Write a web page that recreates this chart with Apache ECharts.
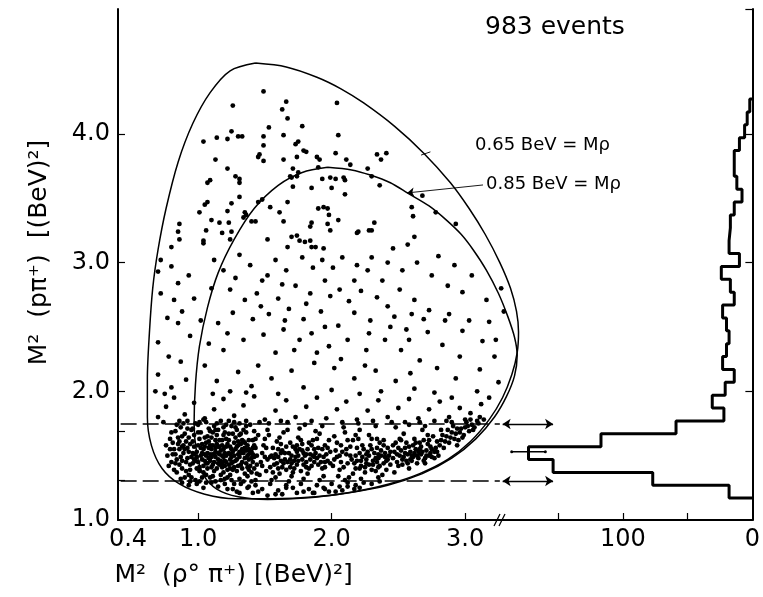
<!DOCTYPE html>
<html><head><meta charset="utf-8">
<script src="https://cdn.jsdelivr.net/npm/echarts@6/dist/echarts.min.js"></script>
<style>html,body{margin:0;padding:0;background:#fff}#c{width:763px;height:597px}</style>
</head><body><div id="c"></div>
<script>
// ---- data ----
const xTickValues = [1.0, 2.0, 3.0];
const xLabelValues = [0.4, 1.0, 2.0, 3.0];
const yTickValues = [1.31, 1.69, 2.0, 3.0, 4.0];
const yLabelValues = [1.0, 2.0, 3.0, 4.0];
const histTickValues = [50, 100, 150];
const histLabelValues = [0, 100];
const rightTickValues = [2, 3, 4, 4.97];
const binStart = 1.17;
const binWidth = 0.1;
const histCounts = [18,77,154,173,117,59,22,31,21,14,23,20,18,20,23,14,17,24,10,18,17,17,14,8,12,14,14,10,6,4,2];
const bandLimits = [1.303, 1.746];
const errorBar = {y: 1.53, lo: 160, hi: 186};
const boundary065 = [[1.43,4.55],[1.66,4.52],[1.89,4.44],[2.07,4.35],[2.24,4.24],[2.47,4.06],[2.69,3.85],[2.89,3.62],[3.03,3.42],[3.15,3.22],[3.26,3.00],[3.34,2.80],[3.385,2.62],[3.40,2.46],[3.39,2.30],[3.35,2.13],[3.28,1.95],[3.18,1.78],[3.04,1.61],[2.87,1.47],[2.66,1.36],[2.43,1.28],[2.17,1.22],[1.88,1.18],[1.55,1.165],[1.28,1.165],[1.05,1.20],[0.86,1.28],[0.73,1.40],[0.65,1.58],[0.62,1.80],[0.62,2.10],[0.635,2.45],[0.66,2.80],[0.70,3.10],[0.76,3.42],[0.85,3.78],[0.96,4.08],[1.09,4.32],[1.24,4.49],[1.43,4.55]];
const boundary085 = [[1.97,3.74],[2.15,3.72],[2.29,3.68],[2.44,3.62],[2.57,3.54],[2.73,3.44],[2.86,3.33],[2.97,3.22],[3.06,3.10],[3.16,2.94],[3.25,2.76],[3.32,2.58],[3.37,2.42],[3.39,2.28],[3.37,2.12],[3.31,1.96],[3.22,1.80],[3.08,1.63],[2.90,1.48],[2.68,1.36],[2.42,1.27],[2.12,1.21],[1.80,1.17],[1.52,1.16],[1.30,1.18],[1.14,1.24],[1.04,1.35],[0.99,1.52],[0.97,1.75],[0.98,2.05],[1.01,2.35],[1.07,2.65],[1.15,2.92],[1.27,3.18],[1.42,3.42],[1.60,3.60],[1.78,3.70],[1.97,3.74]];
const eventsUpper = [
[1.49,4.33],[1.26,4.22],[1.66,4.25],[1.63,4.19],[2.04,4.24],[1.67,4.12],[1.78,4.06],[1.53,4.05],[1.25,4.02],[1.30,3.98],
[1.33,3.98],[1.04,3.94],[1.14,3.97],[1.22,3.96],[1.49,3.98],[1.64,3.99],[2.05,3.99],[1.73,3.92],[1.75,3.94],[1.49,3.91],
[1.46,3.84],[1.45,3.82],[1.49,3.79],[1.64,3.80],[1.79,3.87],[1.81,3.86],[1.74,3.82],[1.89,3.82],[1.91,3.80],[2.03,3.85],
[2.11,3.80],[2.14,3.76],[2.34,3.84],[2.41,3.85],[2.37,3.80],[1.13,3.80],[1.22,3.73],[1.71,3.73],[1.69,3.67],[2.27,3.73],
[1.28,3.67],[1.31,3.65],[1.31,3.62],[1.09,3.64],[1.07,3.62],[1.74,3.67],[1.75,3.70],[1.70,3.66],[1.90,3.74],[1.93,3.65],
[1.99,3.66],[2.03,3.65],[2.09,3.66],[2.10,3.64],[2.30,3.67],[2.36,3.60],[1.71,3.59],[1.85,3.58],[2.00,3.58],[2.10,3.53],
[2.68,3.52],[1.31,3.51],[1.07,3.47],[1.05,3.45],[1.25,3.46],[1.22,3.40],[1.48,3.49],[1.45,3.47],[1.67,3.47],[1.54,3.43],
[1.90,3.42],[1.94,3.43],[1.97,3.42],[1.98,3.37],[2.05,3.33],[1.61,3.39],[1.35,3.39],[1.34,3.35],[1.36,3.37],[1.01,3.39],
[1.10,3.33],[1.16,3.31],[1.23,3.31],[1.40,3.32],[1.43,3.32],[1.64,3.32],[1.85,3.31],[1.84,3.28],[1.97,3.30],[1.99,3.25],
[2.32,3.31],[2.28,3.25],[2.60,3.43],[2.61,3.36],[2.78,3.39],[2.93,3.30],[0.86,3.30],[0.85,3.24],[0.86,3.18],[1.06,3.25],
[1.18,3.23],[1.25,3.24],[1.24,3.18],[1.04,3.17],[1.04,3.15],[1.52,3.18],[1.70,3.20],[1.74,3.21],[1.76,3.17],[1.80,3.16],
[1.84,3.17],[1.85,3.12],[1.88,3.12],[2.20,3.24],[2.19,3.23],[2.30,3.25],[2.62,3.20],[2.57,3.14],[0.80,3.12],[1.67,3.12],
[1.94,3.11],[2.46,3.11]
];
const eventsMiddle = [
[0.72,3.02],[0.70,2.93],[0.80,2.97],[0.85,2.84],[0.72,2.76],[0.82,2.71],[0.77,2.57],[0.85,2.53],[0.94,2.43],[0.70,2.38],
[0.78,2.27],[0.87,2.23],[0.70,2.13],[0.80,2.03],[0.91,2.09],[0.68,2.00],[0.75,1.98],[0.88,2.62],[0.93,2.90],[0.97,2.72],
[1.12,3.02],[1.19,2.94],[1.31,3.06],[1.39,2.98],[1.48,2.86],[1.24,2.79],[1.35,2.71],[1.44,2.76],[1.58,3.02],[1.66,2.94],
[1.78,3.04],[1.86,2.96],[1.93,3.02],[2.08,3.04],[2.19,2.98],[2.30,3.04],[2.42,3.00],[2.53,2.94],[2.64,3.00],[2.75,2.90],
[2.87,2.82],[2.98,2.77],[3.16,2.71],[3.18,2.54],[3.29,2.62],[3.13,2.39],[2.98,2.47],[2.85,2.55],[2.73,2.63],[2.62,2.71],
[2.51,2.79],[2.38,2.86],[2.27,2.94],[2.17,2.86],[2.06,2.79],[1.95,2.86],[1.84,2.76],[1.73,2.82],[1.60,2.72],[1.68,2.64],
[1.53,2.60],[1.41,2.56],[1.26,2.61],[1.15,2.53],[1.08,2.37],[1.19,2.32],[1.34,2.40],[1.49,2.44],[1.64,2.48],[1.79,2.56],
[1.92,2.62],[2.05,2.51],[2.17,2.61],[2.29,2.55],[2.42,2.66],[2.56,2.48],[2.69,2.56],[2.83,2.36],[2.96,2.27],[3.11,2.17],
[3.22,2.27],[3.25,2.07],[3.09,2.00],[2.93,2.10],[2.79,2.18],[2.66,2.24],[2.52,2.32],[2.40,2.40],[2.26,2.32],[2.12,2.40],
[1.98,2.35],[1.85,2.45],[1.72,2.32],[1.58,2.30],[1.45,2.20],[1.30,2.15],[1.14,2.08],[1.24,2.00],[1.40,2.04],[1.55,2.10],
[1.70,2.16],[1.87,2.22],[2.02,2.18],[2.17,2.10],[2.33,2.16],[2.48,2.08],[2.62,2.02],[2.77,1.99],[2.90,1.95],[2.59,2.14],
[2.37,2.00],[2.21,1.98],[2.00,2.01],[1.79,2.03],[1.60,1.98],[1.36,1.99],[1.11,1.98],[1.05,2.20],[1.02,2.55],[1.10,2.80],
[1.22,2.45],[1.52,2.90],[1.63,2.83],[2.01,2.96],[2.13,2.70],[2.34,2.73],[2.47,2.58],[2.58,2.40],[2.72,2.46],[2.88,2.60],
[3.03,2.55],[3.05,2.90],[2.92,2.98],[2.80,3.05],[3.23,2.40],[3.27,2.80],[1.76,2.40],[1.89,2.30],[2.07,2.25],[2.28,2.45],
[1.28,2.88],[1.47,2.66],[1.81,2.68],[1.99,2.74],[2.22,2.78],[2.44,2.50],[2.60,2.60],[2.25,2.20],[1.95,2.50],[1.65,2.55],
[0.70,1.80],[0.76,1.88],[0.82,1.95],[0.90,1.82],[0.97,1.91],[1.05,1.79],[1.12,1.86],[1.19,1.94],[1.27,1.81],[1.34,1.89],
[1.42,1.96],[1.50,1.78],[1.58,1.85],[1.66,1.93],[1.73,1.80],[1.81,1.88],[1.89,1.95],[1.96,1.79],[2.04,1.86],[2.11,1.92],
[2.19,1.78],[2.27,1.85],[2.35,1.93],[2.42,1.80],[2.50,1.87],[2.58,1.94],[2.65,1.79],[2.73,1.86],[2.81,1.92],[2.88,1.80],
[2.96,1.87],[3.04,1.83],[3.12,1.90],[3.18,1.95],[0.74,1.76],[0.86,1.77],[1.01,1.76],[1.23,1.77],[1.46,1.76],[1.62,1.77],
[1.85,1.77],[2.08,1.76],[2.31,1.77],[2.55,1.76],[2.77,1.77]
];
const eventsBand = [
[0.78,1.42],[0.81,1.51],[0.76,1.58],[0.84,1.47],[0.79,1.63],[0.86,1.55],[0.83,1.69],[0.88,1.40],[0.91,1.61],[0.87,1.72],
[0.93,1.35],[0.95,1.49],[0.92,1.56],[0.97,1.66],[0.94,1.43],[0.99,1.53],[0.96,1.71],[1.01,1.38],[1.03,1.59],[0.98,1.46],
[1.05,1.64],[1.02,1.50],[1.07,1.44],[1.04,1.55],[1.09,1.69],[1.06,1.35],[1.11,1.58],[1.08,1.48],[1.13,1.62],[1.10,1.41],
[1.15,1.52],[1.12,1.73],[1.17,1.46],[1.14,1.66],[1.19,1.37],[1.16,1.57],[1.21,1.50],[1.18,1.62],[1.23,1.43],[1.20,1.68],
[1.25,1.55],[1.22,1.33],[1.27,1.60],[1.24,1.47],[1.29,1.70],[1.26,1.39],[1.31,1.53],[1.28,1.64],[1.33,1.45],[1.30,1.58],
[1.35,1.36],[1.32,1.67],[1.37,1.50],[1.34,1.61],[1.39,1.42],[1.36,1.73],[1.41,1.56],[1.38,1.47],[1.43,1.63],[1.40,1.53],
[0.80,1.45],[0.85,1.59],[0.89,1.52],[0.90,1.67],[0.94,1.39],[0.97,1.57],[1.00,1.45],[1.01,1.63],[1.04,1.42],[1.07,1.52],
[1.08,1.61],[1.10,1.55],[1.12,1.45],[1.14,1.40],[1.16,1.51],[1.18,1.44],[1.19,1.55],[1.22,1.59],[1.23,1.52],[1.25,1.44],
[1.27,1.50],[1.29,1.57],[1.30,1.42],[1.33,1.55],[1.35,1.48],[1.37,1.58],[1.39,1.53],[1.41,1.45],[1.42,1.40],[1.44,1.50],
[0.82,1.55],[0.87,1.49],[0.91,1.45],[0.93,1.53],[0.96,1.61],[0.99,1.49],[1.03,1.47],[1.05,1.57],[1.06,1.50],[1.09,1.46],
[1.11,1.51],[1.13,1.56],[1.15,1.47],[1.17,1.54],[1.19,1.49],[1.21,1.45],[1.24,1.57],[1.26,1.53],[1.28,1.46],[1.31,1.49],
[1.32,1.59],[1.34,1.52],[1.36,1.44],[1.38,1.55],[1.40,1.48],[0.84,1.37],[0.90,1.33],[0.98,1.31],[1.03,1.33],[1.11,1.34],
[1.17,1.31],[1.24,1.35],[1.31,1.32],[1.37,1.34],[1.43,1.31],[0.88,1.65],[0.95,1.70],[1.00,1.74],[1.08,1.71],[1.15,1.70],
[1.21,1.74],[1.28,1.72],[1.34,1.70],[1.42,1.69],[0.86,1.43],[0.92,1.48],[0.96,1.44],[1.02,1.56],[1.06,1.60],[1.10,1.64],
[1.13,1.49],[1.18,1.58],[1.20,1.42],[1.23,1.62],[1.27,1.41],[1.30,1.61],[1.33,1.40],[1.36,1.54],[1.38,1.62],[1.42,1.58],
[0.81,1.60],[0.89,1.58],[0.97,1.51],[1.01,1.41],[1.05,1.46],[1.09,1.51],[1.14,1.59],[1.16,1.43],[1.20,1.52],[1.25,1.49],
[0.77,1.50],[0.80,1.68],[0.83,1.44],[0.85,1.64],[0.88,1.46],[0.89,1.75],[0.91,1.38],[0.92,1.71],[0.94,1.59],[0.95,1.33],
[0.97,1.47],[0.98,1.75],[1.00,1.58],[1.01,1.30],[1.02,1.68],[1.04,1.37],[1.05,1.51],[1.06,1.76],[1.07,1.40],[1.08,1.56],
[1.09,1.33],[1.10,1.49],[1.11,1.68],[1.12,1.38],[1.13,1.53],[1.14,1.75],[1.15,1.44],[1.16,1.62],[1.17,1.35],[1.18,1.50],
[1.19,1.72],[1.20,1.46],[1.21,1.57],[1.22,1.39],[1.23,1.67],[1.24,1.51],[1.25,1.31],[1.26,1.45],[1.27,1.76],[1.28,1.55],
[1.29,1.38],[1.30,1.51],[1.31,1.66],[1.32,1.43],[1.33,1.62],[1.34,1.30],[1.35,1.56],[1.36,1.68],[1.37,1.41],[1.38,1.51],
[1.39,1.74],[1.40,1.37],[1.41,1.62],[1.42,1.49],[1.43,1.56],[1.44,1.36],[1.45,1.66],[0.79,1.55],[0.82,1.39],[0.86,1.61],
[0.90,1.55],[0.93,1.64],[0.96,1.52],[0.99,1.40],[1.03,1.52],[1.06,1.44],[1.09,1.58],[1.12,1.51],[1.15,1.57],[1.18,1.41],
[1.21,1.63],[1.24,1.40],[1.26,1.67],[1.29,1.47],[1.32,1.52],[1.35,1.60],[1.38,1.39],[1.41,1.51],[1.44,1.43],[1.00,1.68],
[1.07,1.65],[1.13,1.70],[1.19,1.66],[1.25,1.73],[1.31,1.75],[0.84,1.74],[0.92,1.77],[1.04,1.78],[1.17,1.77],[1.36,1.77],
[0.87,1.32],[0.94,1.30],[1.06,1.29],[1.13,1.30],[1.20,1.32],[1.27,1.28],[1.40,1.30],[0.83,1.51],[0.88,1.57],[1.11,1.43],
[1.47,1.45],[1.49,1.58],[1.51,1.38],[1.53,1.66],[1.55,1.50],[1.57,1.43],[1.59,1.61],[1.61,1.36],[1.63,1.54],[1.65,1.47],
[1.67,1.70],[1.69,1.41],[1.71,1.57],[1.73,1.49],[1.75,1.64],[1.77,1.38],[1.79,1.52],[1.81,1.45],[1.83,1.60],[1.85,1.42],
[1.87,1.55],[1.89,1.48],[1.91,1.67],[1.93,1.40],[1.95,1.58],[1.97,1.46],[1.99,1.53],[1.48,1.52],[1.52,1.47],[1.56,1.56],
[1.60,1.49],[1.64,1.44],[1.68,1.52],[1.72,1.46],[1.76,1.55],[1.80,1.50],[1.84,1.47],[1.88,1.52],[1.92,1.45],[1.96,1.51],
[1.50,1.63],[1.54,1.41],[1.58,1.51],[1.62,1.59],[1.66,1.39],[1.70,1.50],[1.74,1.43],[1.78,1.47],[1.82,1.55],[1.86,1.62],
[1.90,1.43],[1.94,1.49],[1.98,1.62],[1.46,1.35],[1.58,1.33],[1.70,1.34],[1.82,1.36],[1.94,1.34],[1.52,1.70],[1.64,1.68],
[1.76,1.71],[1.88,1.69],[1.62,1.46],[1.66,1.57],[1.74,1.53],[1.78,1.59],[1.84,1.51],[1.90,1.56],[1.57,1.48],[1.69,1.47],
[1.72,1.40],[1.81,1.41],[1.87,1.45],[1.95,1.45],[1.60,1.55],[1.75,1.50],
[1.48,1.42],[1.51,1.56],[1.54,1.49],[1.56,1.37],[1.59,1.44],[1.61,1.64],[1.63,1.41],[1.65,1.52],[1.67,1.45],[1.69,1.60],
[1.71,1.37],[1.73,1.55],[1.75,1.46],[1.77,1.62],[1.79,1.43],[1.81,1.51],[1.83,1.40],[1.85,1.58],[1.87,1.49],[1.89,1.63],
[1.91,1.50],[1.93,1.55],[1.95,1.41],[1.97,1.56],[1.99,1.44],[1.53,1.75],[1.67,1.76],[1.80,1.74],[1.93,1.73],[1.55,1.31],
[1.68,1.30],[1.79,1.32],[1.91,1.31],[1.62,1.52],[1.70,1.44],[1.78,1.54],[1.86,1.50],[1.50,1.49],[1.60,1.40],[1.74,1.58],
[2.02,1.47],[2.04,1.60],[2.06,1.39],[2.08,1.53],[2.10,1.68],[2.12,1.44],[2.14,1.57],[2.16,1.36],[2.18,1.50],[2.20,1.63],
[2.22,1.42],[2.24,1.55],[2.26,1.47],[2.28,1.66],[2.30,1.39],[2.32,1.52],[2.34,1.45],[2.36,1.60],[2.38,1.35],[2.40,1.49],
[2.42,1.56],[2.44,1.43],[2.03,1.54],[2.07,1.45],[2.11,1.51],[2.15,1.47],[2.19,1.56],[2.23,1.49],[2.27,1.53],[2.31,1.46],
[2.35,1.51],[2.39,1.44],[2.43,1.50],[2.05,1.34],[2.13,1.33],[2.25,1.37],[2.33,1.38],[2.41,1.39],[2.09,1.72],[2.21,1.70],
[2.33,1.73],[2.17,1.44],[2.21,1.52],[2.25,1.41],[2.29,1.58],[2.31,1.43],[2.35,1.48],[2.37,1.54],[2.39,1.58],[2.41,1.46],
[2.28,1.50],[2.36,1.42],[2.26,1.44],[2.34,1.56],[2.12,1.62],[2.18,1.40],[2.06,1.50],[2.40,1.52],[2.30,1.63],[2.22,1.46],
[2.01,1.42],[2.04,1.49],[2.07,1.58],[2.09,1.41],[2.11,1.55],[2.14,1.50],[2.16,1.62],[2.19,1.46],[2.21,1.40],[2.23,1.58],
[2.26,1.51],[2.28,1.43],[2.30,1.55],[2.33,1.48],[2.35,1.41],[2.37,1.50],[2.39,1.62],[2.42,1.47],[2.44,1.53],[2.46,1.58],
[2.20,1.75],[2.10,1.31],[2.22,1.32],[2.35,1.33],[2.34,1.63],[2.18,1.66],[2.02,1.65],
[2.46,1.48],[2.48,1.60],[2.50,1.42],[2.52,1.54],[2.54,1.67],[2.56,1.46],[2.58,1.57],[2.60,1.50],[2.62,1.63],[2.64,1.44],
[2.66,1.55],[2.68,1.70],[2.70,1.48],[2.72,1.59],[2.74,1.52],[2.76,1.65],[2.78,1.56],[2.47,1.53],[2.51,1.50],[2.55,1.52],
[2.59,1.47],[2.63,1.55],[2.67,1.51],[2.71,1.54],[2.75,1.49],[2.79,1.61],[2.49,1.45],[2.53,1.43],[2.57,1.51],[2.61,1.58],
[2.65,1.48],[2.69,1.62],[2.73,1.50],[2.77,1.53],[2.48,1.72],[2.58,1.74],[2.70,1.73],[2.50,1.56],[2.56,1.60],[2.62,1.52],
[2.66,1.60],[2.74,1.57],[2.64,1.50],[2.60,1.46],[2.54,1.49],[2.72,1.66],[2.68,1.53],[2.52,1.62],
[2.49,1.51],[2.51,1.63],[2.53,1.47],[2.55,1.56],[2.57,1.44],[2.59,1.53],[2.61,1.49],[2.63,1.60],[2.65,1.53],[2.67,1.57],
[2.69,1.46],[2.71,1.50],[2.73,1.62],[2.75,1.55],[2.77,1.48],[2.79,1.53],[2.45,1.76],[2.66,1.76],[2.47,1.37],[2.58,1.40],
[2.70,1.44],[2.80,1.50],
[2.81,1.58],[2.83,1.66],[2.85,1.61],[2.87,1.70],[2.89,1.64],[2.91,1.73],[2.93,1.67],[2.95,1.62],[2.97,1.71],[2.99,1.66],
[3.01,1.76],[3.03,1.69],[3.05,1.74],[3.07,1.72],[2.84,1.56],[2.88,1.60],[2.92,1.63],[2.96,1.68],[3.00,1.72],[3.04,1.78],
[2.82,1.70],[2.90,1.76],[2.94,1.58],[3.09,1.77],[3.11,1.80],[2.82,1.62],[2.86,1.65],[2.90,1.68],[2.94,1.71],[2.98,1.64],
[3.02,1.73],[3.06,1.70],[3.10,1.75],[3.14,1.78],[2.86,1.77],[3.00,1.78],
[0.88,1.29],[0.93,1.27],[0.99,1.28],[1.04,1.25],[1.10,1.29],[1.15,1.26],[1.20,1.28],[1.26,1.24],[1.32,1.28],[1.37,1.25],
[1.43,1.27],[1.48,1.24],[1.54,1.28],[1.60,1.23],[1.66,1.27],[1.71,1.25],[1.77,1.28],[1.83,1.24],[1.89,1.27],[1.94,1.25],
[2.00,1.28],[2.06,1.26],[2.12,1.29],[2.18,1.27],[2.24,1.29],[2.30,1.28],[2.36,1.30],[1.29,1.22],[1.41,1.21],[1.63,1.20],
[1.74,1.21],[1.86,1.21],[1.98,1.22],[2.08,1.23],[2.17,1.24],
[1.22,1.24],[1.31,1.21],[1.45,1.22],[1.58,1.20],[1.66,1.25],[1.79,1.22],[1.87,1.21],[1.95,1.24],[2.03,1.22],[2.12,1.26],
[1.38,1.26],[2.21,1.25],[1.52,1.19]
];

// ---- build ----
const events = eventsUpper.concat(eventsMiddle, eventsBand);
const histLine = [[0, binStart]];
histCounts.forEach((c, k) => {
  histLine.push([c, binStart + k * binWidth]);
  histLine.push([c, binStart + (k + 1) * binWidth]);
});
histLine.push([0, binStart + histCounts.length * binWidth]);

const FONT = 'DejaVu Sans';
const INK = '#000';
const chart = echarts.init(document.getElementById('c'));
chart.setOption({
  animation: false,
  backgroundColor: '#fff',
  grid: [
    {left: 118, top: 9, width: 407.2, height: 511},
    {left: 502, top: 9, width: 253.5, height: 511}
  ],
  xAxis: [
    {gridIndex: 0, type: 'value', min: 0.4, max: 3.45,
     axisLine: {show: true, lineStyle: {color: INK, width: 2}},
     axisTick: {show: true, inside: true, length: 7, customValues: xTickValues, lineStyle: {color: INK, width: 1.2}},
     axisLabel: {customValues: xLabelValues, margin: 8, color: INK, fontFamily: FONT, fontSize: 24,
       formatter: v => v === 0.4 ? '{a|0.4}' : v.toFixed(1),
       rich: {a: {padding: [0, 0, 0, 20], color: INK, fontFamily: FONT, fontSize: 24}}},
     splitLine: {show: false},
     name: 'M²  (ρ° π⁺) [(BeV)²]', nameLocation: 'middle', nameGap: 43,
     nameTextStyle: {color: INK, fontFamily: FONT, fontSize: 25, padding: [0, 176, 0, 0]}},
    {gridIndex: 1, type: 'value', min: 0, max: 193.5, inverse: true,
     axisLine: {show: true, lineStyle: {color: INK, width: 2}},
     axisTick: {show: true, inside: true, length: 7, customValues: histTickValues, lineStyle: {color: INK, width: 1.2}},
     axisLabel: {customValues: histLabelValues, margin: 8, color: INK, fontFamily: FONT, fontSize: 24, formatter: v => String(v)},
     splitLine: {show: false}}
  ],
  yAxis: [
    {gridIndex: 0, type: 'value', min: 1.0, max: 4.97,
     axisLine: {show: true, lineStyle: {color: INK, width: 2}},
     axisTick: {show: true, inside: true, length: 7, customValues: yTickValues, lineStyle: {color: INK, width: 1.2}},
     axisLabel: {customValues: yLabelValues, margin: 8, color: INK, fontFamily: FONT, fontSize: 24, formatter: v => v.toFixed(1)},
     splitLine: {show: false},
     name: 'M²  (pπ⁺)  [(BeV)²]', nameLocation: 'middle', nameGap: 66,
     nameTextStyle: {color: INK, fontFamily: FONT, fontSize: 25, padding: [0, 0, 0, 24]}},
    {gridIndex: 1, type: 'value', min: 1.0, max: 4.97, position: 'right',
     axisLine: {show: true, lineStyle: {color: INK, width: 2}},
     axisTick: {show: true, inside: true, length: 7, customValues: rightTickValues, lineStyle: {color: INK, width: 1.2}},
     axisLabel: {show: false}, splitLine: {show: false}}
  ],
  series: [
    {type: 'scatter', xAxisIndex: 0, yAxisIndex: 0, data: events, symbolSize: 4.8,
     itemStyle: {color: INK, opacity: 1}, silent: true, large: false},
    {type: 'line', xAxisIndex: 0, yAxisIndex: 0, data: boundary065, smooth: 0.3, symbol: 'none',
     lineStyle: {color: INK, width: 1.5}},
    {type: 'line', xAxisIndex: 0, yAxisIndex: 0, data: boundary085, smooth: 0.3, symbol: 'none',
     lineStyle: {color: INK, width: 1.5}},
    {type: 'line', xAxisIndex: 0, yAxisIndex: 0, data: [[0.42, bandLimits[1]], [3.26, bandLimits[1]]], symbol: 'none',
     lineStyle: {color: INK, width: 1.4, type: [16, 6]}},
    {type: 'line', xAxisIndex: 0, yAxisIndex: 0, data: [[0.42, bandLimits[0]], [3.26, bandLimits[0]]], symbol: 'none',
     lineStyle: {color: INK, width: 1.4, type: [16, 6]},
     markLine: {silent: true, symbol: ['none', 'arrow'], symbolSize: 7, label: {show: false},
       lineStyle: {color: INK, width: 0.9, type: 'solid'},
       data: [[{coord: [3.134, 3.603]}, {coord: [2.565, 3.541]}],
              [{coord: [2.67, 3.835], symbol: 'none'}, {coord: [2.74, 3.86], symbol: 'none'}]]}},
    {type: 'line', xAxisIndex: 1, yAxisIndex: 1, data: histLine, symbol: 'none',
     lineStyle: {color: INK, width: 3}, z: 3,
     markLine: {silent: true, symbol: ['arrow', 'arrow'], symbolSize: 8, label: {show: false},
       lineStyle: {color: INK, width: 1.4, type: 'solid'},
       data: [[{coord: [193, bandLimits[1]]}, {coord: [154, bandLimits[1]]}],
              [{coord: [193, bandLimits[0]]}, {coord: [154, bandLimits[0]]}]]}},
    {type: 'line', xAxisIndex: 1, yAxisIndex: 1, data: [[errorBar.lo, errorBar.y], [errorBar.hi, errorBar.y]],
     symbol: 'circle', symbolSize: 3, itemStyle: {color: INK}, lineStyle: {color: INK, width: 1.6}}
  ],
  graphic: [
    {type: 'text', left: 485, top: 15, style: {text: '983 events', fill: INK, font: '25px "DejaVu Sans"'}},
    {type: 'text', left: 475, top: 136, style: {text: '0.65 BeV = Mρ', fill: INK, font: '18px "DejaVu Sans"'}},
    {type: 'text', left: 486, top: 175, style: {text: '0.85 BeV = Mρ', fill: INK, font: '18px "DejaVu Sans"'}},
    {type: 'line', shape: {x1: 494, y1: 526, x2: 500, y2: 514}, style: {stroke: INK, lineWidth: 1.3}},
    {type: 'line', shape: {x1: 499, y1: 526, x2: 505, y2: 514}, style: {stroke: INK, lineWidth: 1.3}}
  ]
});
</script></body></html>
